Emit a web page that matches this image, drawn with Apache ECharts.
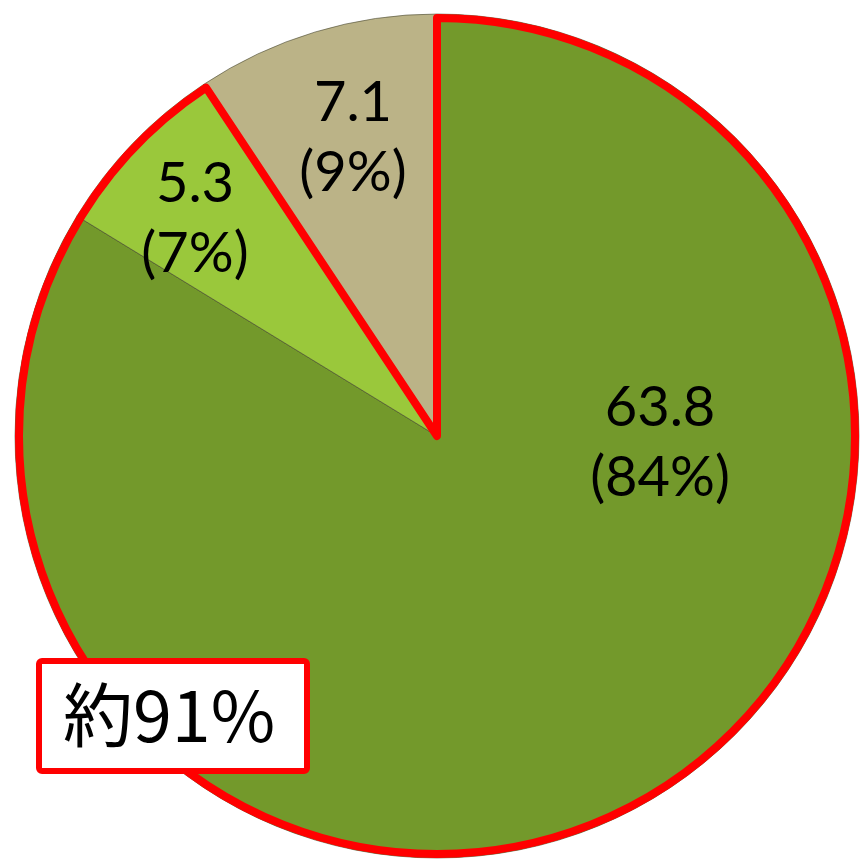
<!DOCTYPE html>
<html>
<head>
<meta charset="utf-8">
<script src="https://cdn.jsdelivr.net/npm/echarts@6/dist/echarts.min.js"></script>
<style>
  html, body { margin: 0; padding: 0; background: #fff; }
  #chart { width: 861px; height: 859px; }
</style>
</head>
<body>
<div id="chart"></div>
<script>
var NAMES = ['A', 'B', 'C'];
var VALUES = [63.8, 5.3, 7.1];
var COLORS = ['#73992B', '#9AC83B', '#BBB387'];
// where each slice label sits (pixels)
var LABEL_POS = [[660, 443], [195, 219], [353, 138]];

var total = VALUES.reduce(function (a, b) { return a + b; }, 0);
var highlight = VALUES[0] + VALUES[1];
var highlightPct = Math.round(highlight / total * 100);

var chart = echarts.init(document.getElementById('chart'), null, { renderer: 'canvas' });

chart.setOption({
  animation: false,
  title: {
    text: '約' + highlightPct + '%',
    left: 39,
    top: 661,
    padding: [12, 32, 14, 24],
    backgroundColor: '#fff',
    borderColor: '#FF0000',
    borderWidth: 6,
    borderRadius: 3,
    textStyle: {
      fontFamily: '"Noto Sans CJK JP", sans-serif',
      fontSize: 70,
      fontWeight: 'normal',
      color: '#000',
      lineHeight: 84
    },
    z: 10
  },
  series: [
    {
      type: 'pie',
      center: [437, 436],
      radius: [0, 422],
      startAngle: 90,
      clockwise: true,
      percentPrecision: 0,
      avoidLabelOverlap: false,
      emphasis: { disabled: true },
      itemStyle: { borderColor: 'rgba(60,60,40,0.55)', borderWidth: 1 },
      label: {
        show: true,
        position: 'inside',
        formatter: '{c}\n({d}%)',
        fontFamily: 'Lato, "Noto Sans", sans-serif',
        fontSize: 56,
        lineHeight: 70,
        color: '#000',
        align: 'center',
        verticalAlign: 'middle'
      },
      labelLine: { show: false },
      labelLayout: function (params) {
        var p = LABEL_POS[params.dataIndex];
        return { x: p[0], y: p[1], align: 'center', verticalAlign: 'middle' };
      },
      data: VALUES.map(function (v, i) {
        return { name: NAMES[i], value: v, itemStyle: { color: COLORS[i] } };
      })
    },
    {
      // red outline around the first two slices
      type: 'pie',
      center: [437, 436],
      radius: [0, 418],
      startAngle: 90,
      clockwise: true,
      silent: true,
      emphasis: { disabled: true },
      label: { show: false },
      labelLine: { show: false },
      z: 5,
      data: [
        {
          name: 'highlight', value: highlight,
          itemStyle: { color: 'rgba(0,0,0,0)', borderColor: '#FF0000', borderWidth: 8, borderJoin: 'round' }
        },
        {
          name: 'rest', value: VALUES[2],
          itemStyle: { color: 'rgba(0,0,0,0)', borderWidth: 0 }
        }
      ]
    }
  ]
});
</script>
</body>
</html>
